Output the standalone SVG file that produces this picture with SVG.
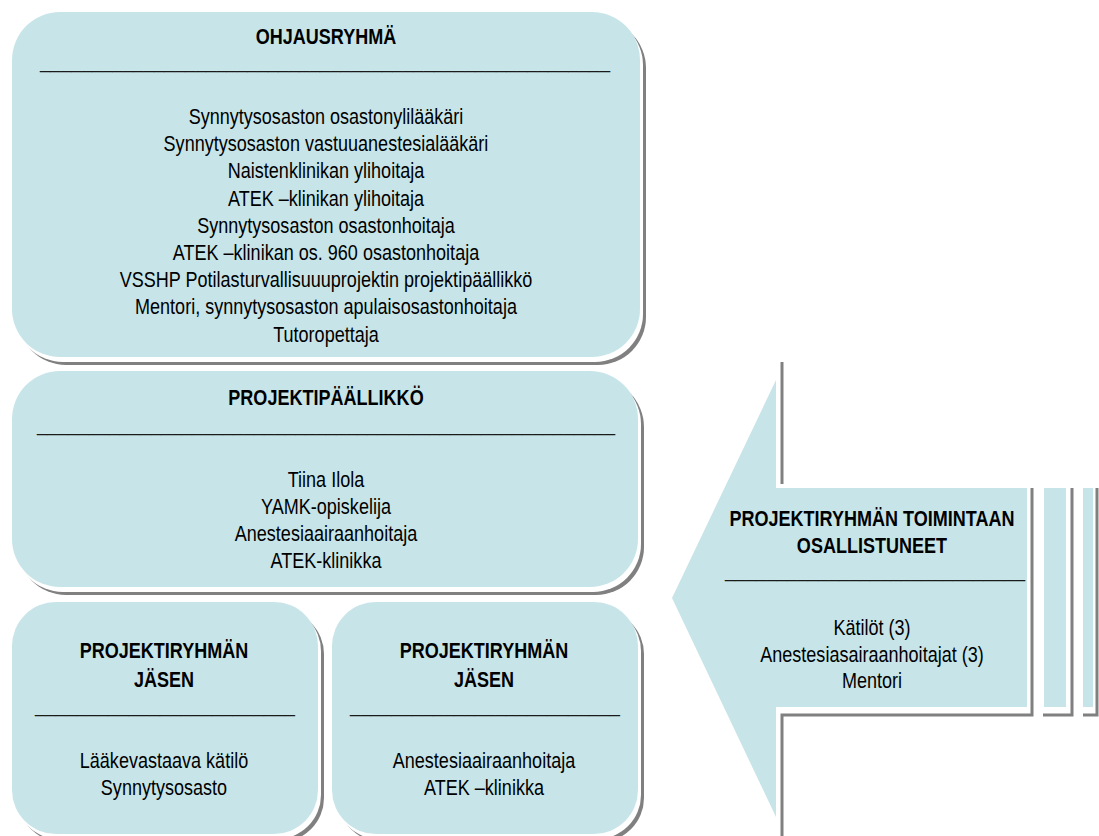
<svg xmlns="http://www.w3.org/2000/svg" width="1099" height="836" viewBox="0 0 1099 836">
  <style>
    .fill { fill: #c7e5e8; }
    .halo { fill: #ffffff; }
    .shade { fill: #808080; }
    .edge { fill: none; stroke: #808080; stroke-width: 3; }
    text { font-family: "Liberation Sans", Arial, sans-serif; font-size: 22px; fill: #000; }
    .c { text-anchor: middle; }
    .b { font-weight: bold; }
    .rule { fill: #1a1a1a; }
  </style>

  <rect width="1099" height="836" fill="#ffffff"/>

  <!-- Steering group -->
  <g id="ohjausryhma">
    <rect class="shade" x="18" y="20" width="628" height="345" rx="48"/>
    <rect class="halo" x="15" y="17" width="628" height="345" rx="48"/>
    <rect class="fill" x="12" y="12" width="628" height="345" rx="48"/>
    <text class="rule" x="40" y="68" textLength="570" lengthAdjust="spacingAndGlyphs">_______________________________________________________</text>
    <!-- narrow lettering: horizontal squeeze about the centre line x=326 -->
    <g transform="matrix(0.82 0 0 1 58.68 0)">
      <text class="c b" x="326" y="44">OHJAUSRYHMÄ</text>
      <text class="c" x="326" y="124">Synnytysosaston osastonylilääkäri</text>
      <text class="c" x="326" y="151.2">Synnytysosaston vastuuanestesialääkäri</text>
      <text class="c" x="326" y="178.4">Naistenklinikan ylihoitaja</text>
      <text class="c" x="326" y="205.6">ATEK –klinikan ylihoitaja</text>
      <text class="c" x="326" y="232.8">Synnytysosaston osastonhoitaja</text>
      <text class="c" x="326" y="260">ATEK –klinikan os. 960 osastonhoitaja</text>
      <text class="c" x="326" y="287.2">VSSHP Potilasturvallisuuuprojektin projektipäällikkö</text>
      <text class="c" x="326" y="314.4">Mentori, synnytysosaston apulaisosastonhoitaja</text>
      <text class="c" x="326" y="341.6">Tutoropettaja</text>
    </g>
  </g>

  <!-- Project manager -->
  <g id="projektipaallikko">
    <rect class="shade" x="18" y="379" width="626" height="216" rx="48"/>
    <rect class="halo" x="15" y="376" width="626" height="216" rx="48"/>
    <rect class="fill" x="12" y="371" width="626" height="216" rx="48"/>
    <text class="rule" x="37" y="431" textLength="578" lengthAdjust="spacingAndGlyphs">________________________________________________________</text>
    <g transform="matrix(0.82 0 0 1 58.68 0)">
      <text class="c b" x="326" y="405">PROJEKTIPÄÄLLIKKÖ</text>
      <text class="c" x="326" y="487">Tiina Ilola</text>
      <text class="c" x="326" y="514">YAMK-opiskelija</text>
      <text class="c" x="326" y="541">Anestesiaairaanhoitaja</text>
      <text class="c" x="326" y="568">ATEK-klinikka</text>
    </g>
  </g>

  <!-- Project group member, maternity ward -->
  <g id="jasen-1">
    <rect class="shade" x="18" y="610" width="306" height="232" rx="44"/>
    <rect class="halo" x="15" y="607" width="306" height="232" rx="44"/>
    <rect class="fill" x="12" y="602" width="306" height="232" rx="44"/>
    <text class="rule" x="35" y="712" textLength="260" lengthAdjust="spacingAndGlyphs">_________________________</text>
    <g transform="matrix(0.82 0 0 1 29.52 0)">
      <text class="c b" x="164" y="658">PROJEKTIRYHMÄN</text>
      <text class="c b" x="164" y="687">JÄSEN</text>
      <text class="c" x="164" y="768">Lääkevastaava kätilö</text>
      <text class="c" x="164" y="795">Synnytysosasto</text>
    </g>
  </g>

  <!-- Project group member, anaesthesia clinic -->
  <g id="jasen-2">
    <rect class="shade" x="338" y="610" width="306" height="232" rx="44"/>
    <rect class="halo" x="335" y="607" width="306" height="232" rx="44"/>
    <rect class="fill" x="332" y="602" width="306" height="232" rx="44"/>
    <text class="rule" x="350" y="712" textLength="270" lengthAdjust="spacingAndGlyphs">__________________________</text>
    <g transform="matrix(0.82 0 0 1 87.12 0)">
      <text class="c b" x="484" y="658">PROJEKTIRYHMÄN</text>
      <text class="c b" x="484" y="687">JÄSEN</text>
      <text class="c" x="484" y="768">Anestesiaairaanhoitaja</text>
      <text class="c" x="484" y="795">ATEK –klinikka</text>
    </g>
  </g>

  <!-- Left-pointing block arrow with trailing stripes -->
  <g id="osallistuneet">
    <path class="edge" d="M782,362 V484"/>
    <path class="edge" d="M1032,488 V715 H782 V836"/>
    <path class="edge" d="M1072,488 V715 H1043"/>
    <path class="edge" d="M1097,488 V715 H1083"/>
    <polygon class="fill" points="672,598 776,380 776,488 1027,488 1027,707 776,707 776,817"/>
    <rect class="fill" x="1044" y="488" width="22" height="219"/>
    <rect class="fill" x="1083" y="488" width="10" height="219"/>
    <text class="rule" x="725" y="577" textLength="300" lengthAdjust="spacingAndGlyphs">_____________________________</text>
    <g transform="matrix(0.82 0 0 1 156.96 0)">
      <text class="c b" x="872" y="526">PROJEKTIRYHMÄN TOIMINTAAN</text>
      <text class="c b" x="872" y="553">OSALLISTUNEET</text>
      <text class="c" x="872" y="635">Kätilöt (3)</text>
      <text class="c" x="872" y="662">Anestesiasairaanhoitajat (3)</text>
      <text class="c" x="872" y="688">Mentori</text>
    </g>
  </g>

  <g id="connectors"/>
</svg>
